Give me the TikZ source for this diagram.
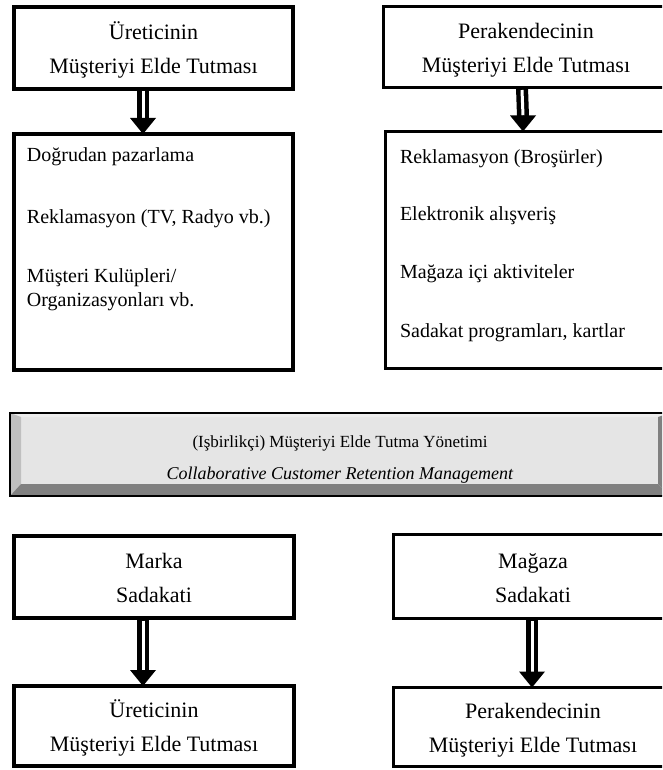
\documentclass[tikz,border=0pt]{standalone}
\usepackage{fontspec}
\setmainfont{Liberation Serif}
\usetikzlibrary{calc}

\definecolor{panelface}{gray}{0.90}
\definecolor{paneltop}{gray}{0.93}
\definecolor{panelleft}{gray}{0.75}
\definecolor{panelshade}{gray}{0.50}

% two centred lines with fixed first-line height and last-line depth
\newcommand\twolines[2]{\rule{0pt}{22pt}#1\\#2\rule[-4.8pt]{0pt}{4.8pt}}

% downward double-line arrow between two boxes, shifted by #3 from their centres
\newcommand\hollowdown[3]{%
  \path ($(#1.south)+(#3,0)$) coordinate (#1-out)
        ($(#2.north)+(#3,0)$) coordinate (#2-in);
  \draw[line width=12pt] (#1-out) -- ($(#2-in)+(0,-15)$);
  \draw[white, line width=3pt] ($(#1-out)+(0,2.5)$) -- ($(#2-in)+(0,-16)$);
  \fill ($(#2-in)+(-13,-16)$) -- (#2-in) -- ($(#2-in)+(13,-16)$) -- cycle;
}

\begin{document}
\begin{tikzpicture}[x=1pt,y=-1pt,
  heavybox/.style={draw, line width=4pt, inner sep=0pt, outer sep=0pt,
    align=center, font=\fontsize{22}{34}\selectfont},
  lightbox/.style={heavybox, line width=3pt},
  item/.style={inner sep=0pt, outer sep=0pt, anchor=base west,
    font=\fontsize{20}{24}\selectfont},
  bevelpanel/.style={fill=panelface, draw, line width=2pt, inner sep=0pt,
    align=center, font=\fontsize{17}{32}\selectfont,
    path picture={
      \coordinate (pnw) at (path picture bounding box.north west);
      \coordinate (pne) at (path picture bounding box.north east);
      \coordinate (psw) at (path picture bounding box.south west);
      \coordinate (pse) at (path picture bounding box.south east);
      \fill[paneltop] (pnw) -- (pne) -- ($(pne)+(-12,4)$) -- ($(pnw)+(11,4)$) -- cycle;
      \fill[panelleft] (pnw) -- ($(pnw)+(11,4)$) -- ($(psw)+(11,-12)$) -- (psw) -- cycle;
      \fill[panelshade] (psw) -- ($(psw)+(11,-12)$) -- ($(pse)+(-12,-12)$) -- (pse) -- cycle;
      \fill[panelshade] (pne) -- (pse) -- ($(pse)+(-12,-12)$) -- ($(pne)+(-12,4)$) -- cycle;
    }}
]
\useasboundingbox (0,0) rectangle (662,770);
\clip (0,0) rectangle (662,770);
\fill[white] (0,0) rectangle (662,770);

% manufacturer column
\node[heavybox, minimum width=279pt, minimum height=82pt] (mret) at (153.5,48)
  {\twolines{Üreticinin}{Müşteriyi Elde Tutması}};
\node[heavybox, minimum width=279pt, minimum height=236pt] (mtools) at (153.5,252) {};
\node[item] (l1) at (27,162) {Doğrudan pazarlama};
\node[item] (l2) at (27,223) {Reklamasyon (TV, Radyo vb.)};
\node[item] (l3) at (27,282) {Müşteri Kulüpleri/};
\node[item] (l4) at (27,306) {Organizasyonları vb.};

% retailer column
\node[lightbox, minimum width=285pt, minimum height=81pt] (rret) at (526,47)
  {\twolines{Perakendecinin}{Müşteriyi Elde Tutması}};
\node[lightbox, minimum width=283pt, minimum height=237pt] (rtools) at (527,250) {};
\node[item] (r1) at (400,164) {Reklamasyon (Broşürler)};
\node[item] (r2) at (400,220) {Elektronik alışveriş};
\node[item] (r3) at (400,278) {Mağaza içi aktiviteler};
\node[item] (r4) at (400,337) {Sadakat programları, kartlar};

% management banner
\node[bevelpanel, minimum width=660pt, minimum height=83pt] (mgmt) at (340,454.5)
  {\rule{0pt}{21pt}(Işbirlikçi) Müşteriyi Elde Tutma Yönetimi\\
   \fontsize{18}{32}\selectfont\textit{Collaborative Customer Retention Management}\rule[-4pt]{0pt}{4pt}};

% loyalty boxes
\node[heavybox, minimum width=280pt, minimum height=82pt] (brand) at (154,577)
  {\twolines{Marka}{Sadakati}};
\node[heavybox, minimum width=280pt, minimum height=80pt] (mret2) at (154,726)
  {\twolines{Üreticinin}{Müşteriyi Elde Tutması}};
\node[lightbox, minimum width=279pt, minimum height=84pt] (store) at (533,576.5)
  {\twolines{Mağaza}{Sadakati}};
\node[lightbox, minimum width=279pt, minimum height=79pt] (rret2) at (533,727)
  {\twolines{Perakendecinin}{Müşteriyi Elde Tutması}};

% arrows
\hollowdown{mret}{mtools}{-10.5}
\hollowdown{rret}{rtools}{-4}
\hollowdown{brand}{mret2}{-11}
\hollowdown{store}{rret2}{-1}
\end{tikzpicture}
\end{document}
